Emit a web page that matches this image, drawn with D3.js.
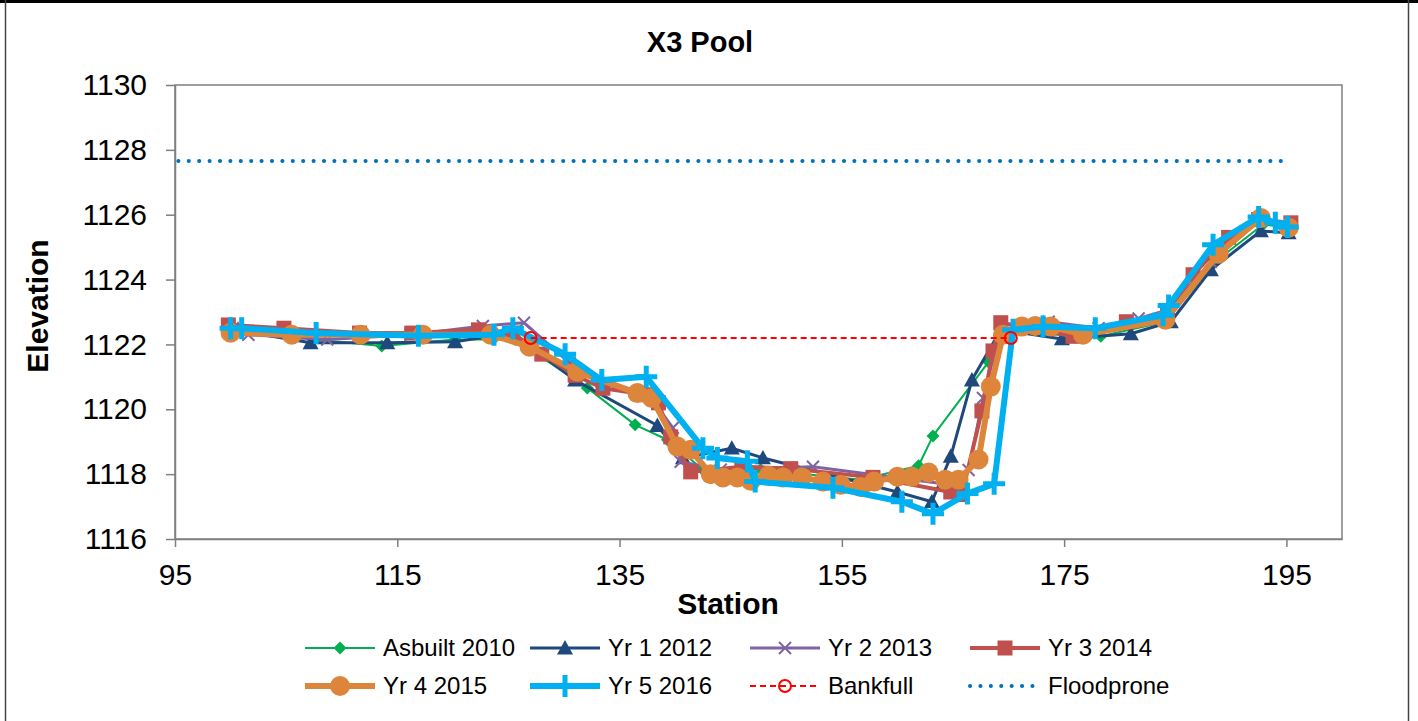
<!DOCTYPE html>
<html>
<head>
<meta charset="utf-8">
<script src="https://cdn.jsdelivr.net/npm/d3@7"></script>
<style>
  body { margin: 0; background: #fff; }
  text { font-family: "Liberation Sans", Arial, sans-serif; fill: #000; }
</style>
</head>
<body>
<script>
// station / elevation pairs
var asbuiltX = [100.1, 113.6, 120.2, 125.6, 132.1, 136.4, 139.3, 142.3, 147.7, 156.7, 161.9, 163.2, 168.2, 169.5, 178.3, 184.1, 188.6, 192.9, 195.2];
var asbuiltY = [1122.4, 1121.95, 1122.15, 1122.15, 1120.66, 1119.52, 1119.06, 1118.2, 1118.14, 1117.83, 1118.26, 1119.18, 1121.46, 1122.36, 1122.25, 1122.7, 1124.55, 1125.7, 1125.6];

var yr1X = [100.3, 107.2, 114.1, 120.2, 125.3, 131.0, 138.4, 140.7, 145.1, 147.9, 160.0, 163.1, 164.8, 166.7, 169.3, 174.8, 181.0, 184.6, 188.2, 192.7, 195.2];
var yr1Y = [1122.45, 1122.05, 1122.05, 1122.08, 1122.35, 1120.9, 1119.5, 1118.5, 1118.8, 1118.5, 1117.45, 1117.15, 1118.55, 1120.9, 1122.45, 1122.17, 1122.33, 1122.7, 1124.3, 1125.5, 1125.44];

var yr2X = [100.2, 101.6, 108.7, 116.2, 122.7, 126.4, 130.5, 134.2, 137.6, 139.8, 140.5, 144.1, 152.4, 164.8, 166.4, 167.7, 169.3, 173.6, 178.1, 181.7, 184.4, 188.2, 192.5, 195.4];
var yr2Y = [1122.5, 1122.3, 1122.15, 1122.3, 1122.57, 1122.67, 1121.43, 1120.75, 1120.45, 1119.43, 1118.38, 1118.14, 1118.23, 1117.67, 1118.13, 1120.35, 1122.45, 1122.7, 1122.5, 1122.8, 1123.07, 1124.55, 1125.8, 1125.7];

var yr3X = [99.8, 104.8, 111.6, 116.3, 122.3, 125.4, 128.0, 131.0, 133.5, 137.5, 138.5, 139.6, 141.4, 146.0, 150.4, 157.8, 164.8, 165.8, 167.6, 168.6, 169.3, 175.8, 180.6, 184.3, 186.6, 189.8, 192.5, 195.4];
var yr3Y = [1122.6, 1122.5, 1122.35, 1122.35, 1122.45, 1122.35, 1121.7, 1121.05, 1120.65, 1120.45, 1120.2, 1119.15, 1118.07, 1118.23, 1118.17, 1117.9, 1117.45, 1117.37, 1119.95, 1121.8, 1122.67, 1122.25, 1122.7, 1122.95, 1124.15, 1125.3, 1125.85, 1125.75];

var yr4X = [100.0, 105.5, 111.7, 117.3, 123.4, 126.9, 131.2, 136.6, 137.9, 140.2, 141.4, 143.2, 144.3, 145.6, 146.8, 148.4, 149.7, 151.4, 153.3, 154.9, 156.7, 157.9, 160.0, 161.3, 162.8, 164.3, 165.5, 167.3, 168.4, 169.5, 171.2, 172.4, 173.8, 176.7, 184.1, 188.9, 192.7, 195.2];
var yr4Y = [1122.36, 1122.3, 1122.3, 1122.3, 1122.3, 1121.93, 1121.16, 1120.5, 1120.35, 1118.85, 1118.75, 1118.0, 1117.9, 1117.9, 1117.8, 1117.95, 1117.9, 1117.9, 1117.77, 1117.67, 1117.6, 1117.77, 1117.92, 1117.92, 1118.05, 1117.83, 1117.83, 1118.45, 1120.7, 1122.3, 1122.55, 1122.57, 1122.55, 1122.3, 1122.76, 1124.8, 1125.9, 1125.6];

var yr5X = [100.0, 101.0, 107.7, 116.9, 123.7, 125.4, 130.1, 133.4, 137.4, 142.5, 143.8, 146.5, 147.2, 154.2, 160.4, 163.2, 166.3, 168.7, 170.4, 173.1, 177.8, 183.9, 184.4, 188.4, 192.5, 194.0, 195.1];
var yr5Y = [1122.5, 1122.5, 1122.35, 1122.27, 1122.3, 1122.5, 1121.7, 1120.9, 1121.0, 1118.8, 1118.5, 1118.4, 1117.77, 1117.58, 1117.15, 1116.78, 1117.4, 1117.7, 1122.45, 1122.55, 1122.5, 1122.9, 1123.2, 1125.07, 1125.93, 1125.75, 1125.62];

var bankfullX = [127.0, 170.2];
var bankfullY = [1122.2, 1122.2];

var floodX = [95.3, 195.4];
var floodY = [1127.66, 1127.66];

var xTicks = [95, 115, 135, 155, 175, 195];
var yTicks = [1116, 1118, 1120, 1122, 1124, 1126, 1128, 1130];

function pairs(xs, ys) {
  return xs.map(function(v, i) { return { x: v, y: ys[i] }; });
}

var series = [
  { name: "Asbuilt 2010", data: pairs(asbuiltX, asbuiltY), color: "#00B050", width: 2, marker: "diamond", size: 13 },
  { name: "Yr 1 2012", data: pairs(yr1X, yr1Y), color: "#1F497D", width: 3, marker: "triangle", size: 16 },
  { name: "Yr 2 2013", data: pairs(yr2X, yr2Y), color: "#8064A2", width: 3, marker: "x", size: 12 },
  { name: "Yr 3 2014", data: pairs(yr3X, yr3Y), color: "#C0504D", width: 4, marker: "square", size: 15 },
  { name: "Yr 4 2015", data: pairs(yr4X, yr4Y), color: "#DC853B", width: 6, marker: "circle", size: 20 },
  { name: "Yr 5 2016", data: pairs(yr5X, yr5Y), color: "#00B0F0", width: 6, marker: "plus", size: 22 },
  { name: "Bankfull", data: pairs(bankfullX, bankfullY), color: "#FF0000", width: 2, marker: "ocircle", size: 12, dash: "6,4" },
  { name: "Floodprone", data: pairs(floodX, floodY), color: "#0070C0", width: 4, marker: "none", dash: "0.1,10.3", cap: "round" }
];

var W = 1418, H = 721;
var plot = { left: 175, right: 1342, top: 85, bottom: 539 };

var svg = d3.select("body").append("svg").attr("width", W).attr("height", H);

// outer frame
svg.append("line").attr("x1", 0).attr("x2", W).attr("y1", 1.5).attr("y2", 1.5).attr("stroke", "#000").attr("stroke-width", 3);
svg.append("line").attr("x1", 5.5).attr("x2", 5.5).attr("y1", 0).attr("y2", H).attr("stroke", "#444").attr("stroke-width", 1.5);
svg.append("line").attr("x1", 1408.5).attr("x2", 1408.5).attr("y1", 0).attr("y2", H).attr("stroke", "#444").attr("stroke-width", 1.5);

var x = d3.scaleLinear().domain([95, 200]).range([plot.left, plot.right]);
var y = d3.scaleLinear().domain([1116, 1130]).range([plot.bottom, plot.top]);

// plot area box
svg.append("rect")
  .attr("x", plot.left).attr("y", plot.top)
  .attr("width", plot.right - plot.left).attr("height", plot.bottom - plot.top)
  .attr("fill", "none").attr("stroke", "#7f7f7f").attr("stroke-width", 1.5);

var xAxis = d3.axisBottom(x).tickValues(xTicks).tickFormat(d3.format("d")).tickSize(8).tickPadding(17).tickSizeOuter(0);
var yAxis = d3.axisLeft(y).tickValues(yTicks).tickFormat(d3.format("d")).tickSize(9).tickPadding(19).tickSizeOuter(0);

var gx = svg.append("g").attr("transform", "translate(0," + plot.bottom + ")").call(xAxis);
var gy = svg.append("g").attr("transform", "translate(" + plot.left + ",0)").call(yAxis);
[gx, gy].forEach(function(g) {
  g.select(".domain").attr("stroke", "#7f7f7f").attr("stroke-width", 1.5);
  g.selectAll(".tick line").attr("stroke", "#7f7f7f").attr("stroke-width", 1.5);
  g.selectAll(".tick text").style("font-family", "Liberation Sans, Arial, sans-serif").style("font-size", "30px").attr("fill", "#000");
});

// titles
svg.append("text").attr("x", 700).attr("y", 52).attr("text-anchor", "middle")
  .style("font-size", "29px").style("font-weight", "bold").text("X3 Pool");
svg.append("text").attr("x", 728).attr("y", 614).attr("text-anchor", "middle")
  .style("font-size", "30px").style("font-weight", "bold").text("Station");
svg.append("text").attr("transform", "translate(48,306) rotate(-90)").attr("text-anchor", "middle")
  .style("font-size", "30px").style("font-weight", "bold").text("Elevation");

function drawMarker(g, s, px, py) {
  var r = s.size / 2;
  if (s.marker === "diamond") {
    g.append("path").attr("d", "M" + px + "," + (py - r) + "L" + (px + r) + "," + py + "L" + px + "," + (py + r) + "L" + (px - r) + "," + py + "Z").attr("fill", s.color);
  } else if (s.marker === "triangle") {
    g.append("path").attr("d", "M" + px + "," + (py - r) + "L" + (px + r) + "," + (py + r * 0.8) + "L" + (px - r) + "," + (py + r * 0.8) + "Z").attr("fill", s.color);
  } else if (s.marker === "x") {
    g.append("path").attr("d", "M" + (px - r) + "," + (py - r) + "L" + (px + r) + "," + (py + r) + "M" + (px + r) + "," + (py - r) + "L" + (px - r) + "," + (py + r))
      .attr("stroke", s.color).attr("stroke-width", 2);
  } else if (s.marker === "square") {
    g.append("rect").attr("x", px - r).attr("y", py - r).attr("width", 2 * r).attr("height", 2 * r).attr("fill", s.color);
  } else if (s.marker === "circle") {
    g.append("circle").attr("cx", px).attr("cy", py).attr("r", r).attr("fill", s.color);
  } else if (s.marker === "plus") {
    g.append("path").attr("d", "M" + (px - r) + "," + py + "L" + (px + r) + "," + py + "M" + px + "," + (py - r) + "L" + px + "," + (py + r))
      .attr("stroke", s.color).attr("stroke-width", 5);
  } else if (s.marker === "ocircle") {
    g.append("circle").attr("cx", px).attr("cy", py).attr("r", r).attr("fill", "none").attr("stroke", s.color).attr("stroke-width", 2);
  }
}

var line = d3.line().x(function(d) { return x(d.x); }).y(function(d) { return y(d.y); });

series.forEach(function(s) {
  var g = svg.append("g");
  g.append("path").attr("d", line(s.data))
    .attr("fill", "none").attr("stroke", s.color).attr("stroke-width", s.width)
    .attr("stroke-dasharray", s.dash || null)
    .attr("stroke-linecap", s.cap || "butt")
    .attr("stroke-linejoin", "round");
  s.data.forEach(function(d) { drawMarker(g, s, x(d.x), y(d.y)); });
});

// legend
var legCols = [305, 530, 750, 970];
var legRows = [648, 686];
series.forEach(function(s, i) {
  var lx = legCols[i % 4], ly = legRows[Math.floor(i / 4)];
  var g = svg.append("g");
  g.append("line").attr("x1", lx).attr("x2", lx + 70).attr("y1", ly).attr("y2", ly)
    .attr("stroke", s.color).attr("stroke-width", s.width)
    .attr("stroke-dasharray", s.dash || null)
    .attr("stroke-linecap", s.cap || "butt");
  drawMarker(g, s, lx + 35, ly);
  g.append("text").attr("x", lx + 78).attr("y", ly + 8).style("font-size", "24px").text(s.name);
});
</script>
</body>
</html>
